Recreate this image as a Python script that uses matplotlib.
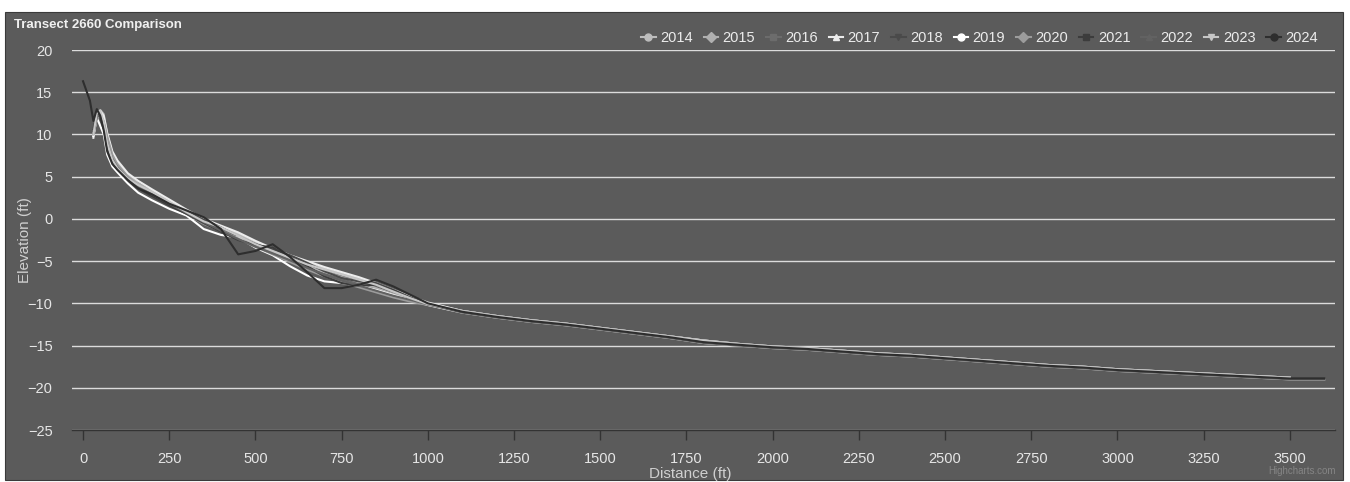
import numpy as np
import matplotlib
matplotlib.use('agg')
import matplotlib.pyplot as plt
from matplotlib.patches import Rectangle

nan = np.nan

# Distance along the transect (ft): dense nearshore, coarser offshore
near_dist = [0, 20, 30, 40, 50, 60, 70, 85, 100, 130, 160, 200, 250, 300, 350, 400,
             450, 500, 550, 600, 650, 700, 750, 800, 850, 900, 950, 1000]
off_dist = [1100, 1200, 1300, 1400, 1500, 1600, 1700, 1800, 1900, 2000, 2100, 2200, 2300,
            2400, 2500, 2600, 2700, 2800, 2900, 3000, 3100, 3200, 3300, 3400, 3500, 3600]

# Offshore profiles (ft) - the surveys nearly overlap out there
off_a = [-11.0, -11.6, -12.1, -12.5, -13.0, -13.5, -14.0, -14.6, -14.9, -15.2, -15.4, -15.7, -16.0,
         -16.2, -16.5, -16.8, -17.1, -17.4, -17.6, -17.9, -18.1, -18.3, -18.5, -18.7, -18.9, -18.9]
off_b = [-10.9, -11.5, -12.0, -12.4, -12.9, -13.4, -13.9, -14.4, -14.8, -15.1, -15.3, -15.6, -15.9,
         -16.1, -16.4, -16.7, -17.0, -17.3, -17.5, -17.8, -18.0, -18.2, -18.4, -18.6, -18.8, nan]
off_c = [-11.1, -11.7, -12.2, -12.6, -13.1, -13.6, -14.1, -14.7, -15.0, -15.3, -15.5, -15.8, -16.1,
         -16.3, -16.6, -16.9, -17.2, -17.5, -17.7, -18.0, -18.2, -18.4, -18.6, -18.8, -19.0, -19.0]

# Nearshore elevations (ft) per survey year
near_2014 = [nan, nan, 10.5, 12.0, 12.6, 12.0, 9.5, 7.5, 6.3, 5.0, 4.1, 3.3, 2.1, 0.9, -0.2, -0.9,
             -1.8, -2.7, -3.6, -4.4, -5.2, -5.9, -6.5, -7.1, -7.8, -8.6, -9.3, -10.0]
near_2015 = [nan, nan, 10.2, 12.3, 12.9, 12.4, 10.0, 7.8, 6.6, 5.2, 4.2, 3.2, 2.0, 0.7, -0.4, -1.1,
             -2.0, -3.0, -3.9, -4.8, -5.6, -6.3, -6.9, -7.5, -8.2, -8.9, -9.5, -10.1]
near_2016 = [nan, nan, 10.0, 12.0, 12.5, 11.8, 9.2, 7.2, 6.0, 4.7, 3.8, 2.9, 1.8, 0.8, -0.3, -1.3,
             -2.3, -3.2, -4.0, -4.9, -5.8, -6.6, -7.2, -7.8, -8.4, -9.0, -9.6, -10.2]
near_2017 = [nan, nan, 9.6, 12.6, 12.8, 12.2, 10.2, 8.0, 6.9, 5.4, 4.5, 3.5, 2.3, 1.1, 0.0, -0.8,
             -1.6, -2.6, -3.5, -4.3, -5.0, -5.7, -6.3, -6.9, -7.6, -8.4, -9.2, -9.9]
near_2018 = [nan, nan, 10.4, 12.2, 12.0, 11.0, 8.6, 6.9, 6.0, 4.8, 3.8, 2.8, 1.7, 0.9, -0.1, -1.0,
             -2.1, -3.0, -3.6, -4.3, -5.2, -6.2, -7.0, -7.4, -7.6, -8.4, -9.3, -10.1]
near_2019 = [nan, nan, 9.8, 12.0, 11.0, 10.0, 7.6, 6.2, 5.5, 4.2, 3.1, 2.2, 1.2, 0.4, -1.2, -1.9,
             -2.2, -3.4, -4.3, -5.6, -6.7, -7.4, -7.6, -7.9, -8.4, -9.0, -9.6, -10.2]
near_2020 = [nan, nan, 10.0, 11.8, 12.2, 11.6, 9.8, 7.6, 6.4, 5.0, 4.0, 3.0, 1.9, 0.6, -0.6, -1.4,
             -2.3, -3.3, -4.2, -5.1, -6.0, -6.8, -7.5, -8.1, -8.7, -9.3, -9.8, -10.2]
near_2021 = [nan, nan, 10.6, 12.4, 12.1, 10.8, 8.4, 6.8, 5.9, 4.6, 3.6, 2.7, 1.6, 0.6, -0.5, -1.5,
             -2.5, -3.1, -3.4, -4.5, -5.6, -6.8, -7.6, -7.9, -7.8, -8.5, -9.4, -10.1]
near_2022 = [nan, nan, 10.1, 12.1, 12.3, 11.4, 9.0, 7.1, 6.1, 4.8, 3.9, 2.9, 1.8, 0.7, -0.4, -1.4,
             -2.4, -3.3, -4.1, -4.9, -5.8, -6.6, -7.3, -7.9, -8.5, -9.1, -9.6, -10.1]
near_2023 = [nan, nan, 10.0, 12.5, 12.8, 11.5, 9.0, 7.0, 6.0, 4.8, 4.0, 3.2, 2.0, 0.8, -0.3, -1.0,
             -2.0, -3.0, -3.8, -4.6, -5.4, -6.0, -6.6, -7.2, -7.8, -8.6, -9.4, -10.1]
near_2024 = [16.3, 14.0, 11.6, 13.0, 12.2, 10.5, 8.0, 6.5, 5.8, 4.6, 3.6, 2.9, 1.8, 1.0, 0.2, -1.2,
             -4.2, -3.8, -3.0, -4.5, -6.3, -8.2, -8.2, -7.8, -7.2, -8.0, -9.0, -10.0]

years = ['2014', '2015', '2016', '2017', '2018', '2019', '2020', '2021', '2022', '2023', '2024']
profiles = [
    near_2014 + off_b, near_2015 + off_a, near_2016 + off_c, near_2017 + off_b,
    near_2018 + off_a, near_2019 + off_c, near_2020 + off_b, near_2021 + off_a,
    near_2022 + off_c, near_2023 + off_b, near_2024 + off_a,
]
colors = ['#bdbdbd', '#b0b0b0', '#6c6c6c', '#ececec', '#4a4a4a', '#ffffff',
          '#9c9c9c', '#3c3c3c', '#626262', '#c6c6c6', '#2e2e2e']
markers = ['o', 'D', 's', '^', 'v', 'o', 'D', 's', '^', 'v', 'o']

dist = near_dist + off_dist

bg = '#5b5b5b'
plt.rcParams['font.family'] = ['Liberation Sans', 'DejaVu Sans']

fig = plt.figure(figsize=(13.5, 4.82), dpi=100)
fig.patch.set_facecolor('white')
fig.patches.append(Rectangle((5 / 1350, 2 / 482), 1338 / 1350, 468 / 482,
                             transform=fig.transFigure, facecolor=bg,
                             edgecolor='#3a3a3a', linewidth=0.8, zorder=-1))

ax = fig.add_axes([72 / 1350, 52 / 482, 1263 / 1350, 380 / 482])
ax.set_facecolor(bg)

for yr, ys, c in zip(years, profiles, colors):
    ax.plot(dist, ys, color=c, lw=1.5, label=yr)

ax.set_xlim(-32, 3631)
ax.set_ylim(-25, 20)
ax.set_xticks(np.arange(0, 3501, 250))
ax.set_yticks(np.arange(-25, 21, 5))
ax.grid(axis='y', color='#dcdcdc', lw=1.0)
ax.set_axisbelow(True)
for s in ['top', 'right', 'left']:
    ax.spines[s].set_visible(False)
ax.spines['bottom'].set_color('#333333')
ax.spines['bottom'].set_linewidth(1.0)
ax.spines['bottom'].set_zorder(3)
ax.tick_params(axis='x', colors='#333333', length=7, width=1, pad=9, labelcolor='#e6e6e6',
               labelsize=10.5)
ax.tick_params(axis='y', length=0, pad=14, labelcolor='#e6e6e6', labelsize=10.5)

ax.set_ylabel('Elevation (ft)', color='#cfcfcf', fontsize=11)
ax.yaxis.set_label_coords(-40 / 1263, 0.5)
ax.set_xlabel('Distance (ft)', color='#cfcfcf', fontsize=11, va='center')
ax.xaxis.set_label_coords((690 - 72) / 1263, -(474 - 430) / 380)

fig.text(14 / 1350, 1 - 25 / 482, 'Transect 2660 Comparison', color='#f0f0f0',
         fontsize=9.5, fontweight='bold', va='center', ha='left')
fig.text(1336 / 1350, 1 - 471 / 482, 'Highcharts.com', color='#858585', fontsize=7,
         ha='right', va='center')

# legend with marker-on-line handles
handles = [plt.Line2D([], [], color=c, lw=1.5, marker=m, markersize=5,
                      markerfacecolor=c, markeredgecolor=c)
           for c, m in zip(colors, markers)]
fig.legend(handles, years, ncol=11, frameon=False, loc='center right',
           bbox_to_anchor=(1318 / 1350, 1 - 38 / 482), handlelength=1.0,
           handletextpad=0.3, columnspacing=0.75, fontsize=10.5, labelcolor='#ececec',
           borderpad=0, borderaxespad=0)

plt.savefig('out.png', dpi=100)
plt.close()
